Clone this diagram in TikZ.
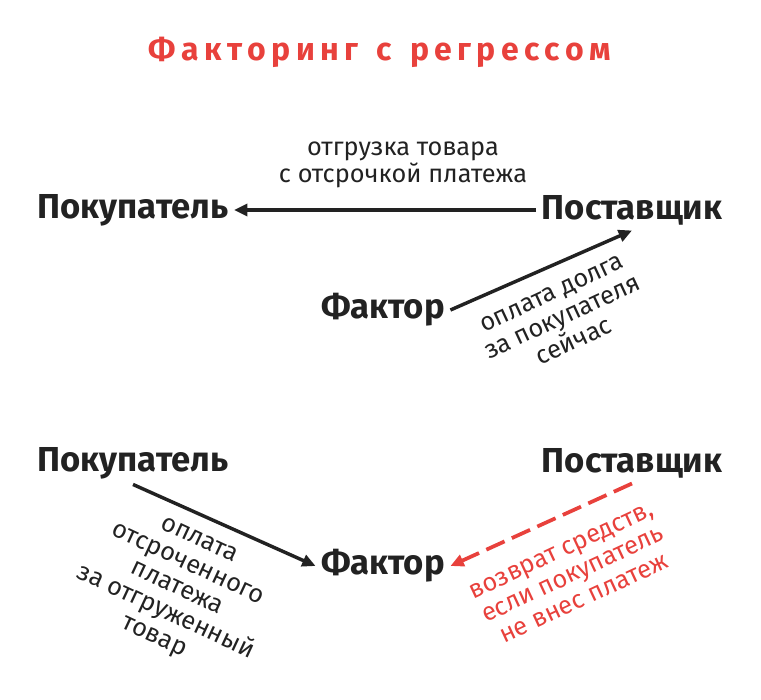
\documentclass[tikz,border=0pt]{standalone}
\usepackage{fontspec}
\setmainfont{Fira Sans}
\usetikzlibrary{arrows.meta}
\definecolor{myred}{HTML}{E8413C}
\definecolor{ink}{HTML}{222222}
\begin{document}
\begin{tikzpicture}[x=0.75pt,y=-0.75pt,
  party/.style={font=\fontsize{26}{30}\selectfont\bfseries,text=ink,inner sep=4pt},
  lab/.style={font=\fontsize{19}{20}\selectfont,text=ink,align=center,inner sep=0pt},
  conn/.style={draw=ink,line width=2.6pt,-{Triangle[length=10pt,width=9pt]}},
  back/.style={draw=myred,line width=2.8pt,dash pattern=on 15pt off 6pt,-{Triangle[length=10pt,width=9pt]}}]
\useasboundingbox (0,0) rectangle (761,700);
\node[font=\fontsize{24}{28}\selectfont\bfseries,text=myred] (title) at (380,52) {Ф\,а\,к\,т\,о\,р\,и\,н\,г\, \,с\, \,р\,е\,г\,р\,е\,с\,с\,о\,м};
% top
\node[party] (b1) at (133,210) {Покупатель};
\node[party] (s1) at (632,210) {Поставщик};
\node[party] (f1) at (383,310) {Фактор};
\draw[conn] (s1.west) -- (b1.east);
\node[lab] (l1) at (403,165) {отгрузка товара\\с отсрочкой платежа};
\draw[conn] (f1.east) -- (s1.south);
\node[lab,rotate=25] (l2) at (563,318) {оплата долга\\за покупателя\\сейчас};
% bottom
\node[party] (b2) at (133,463) {Покупатель};
\node[party] (s2) at (632,463) {Поставщик};
\node[party] (f2) at (383,566) {Фактор};
\draw[conn] (b2.south) -- (f2.west);
\node[lab,rotate=-25] (l3) at (176,590) {оплата\\отсроченного\\платежа\\за отгруженный\\товар};
\draw[back] (s2.south) -- (f2.east);
\node[lab,rotate=25,text=myred] (l4) at (573,575) {возврат средств,\\если покупатель\\не внес платеж};
\end{tikzpicture}
\end{document}
